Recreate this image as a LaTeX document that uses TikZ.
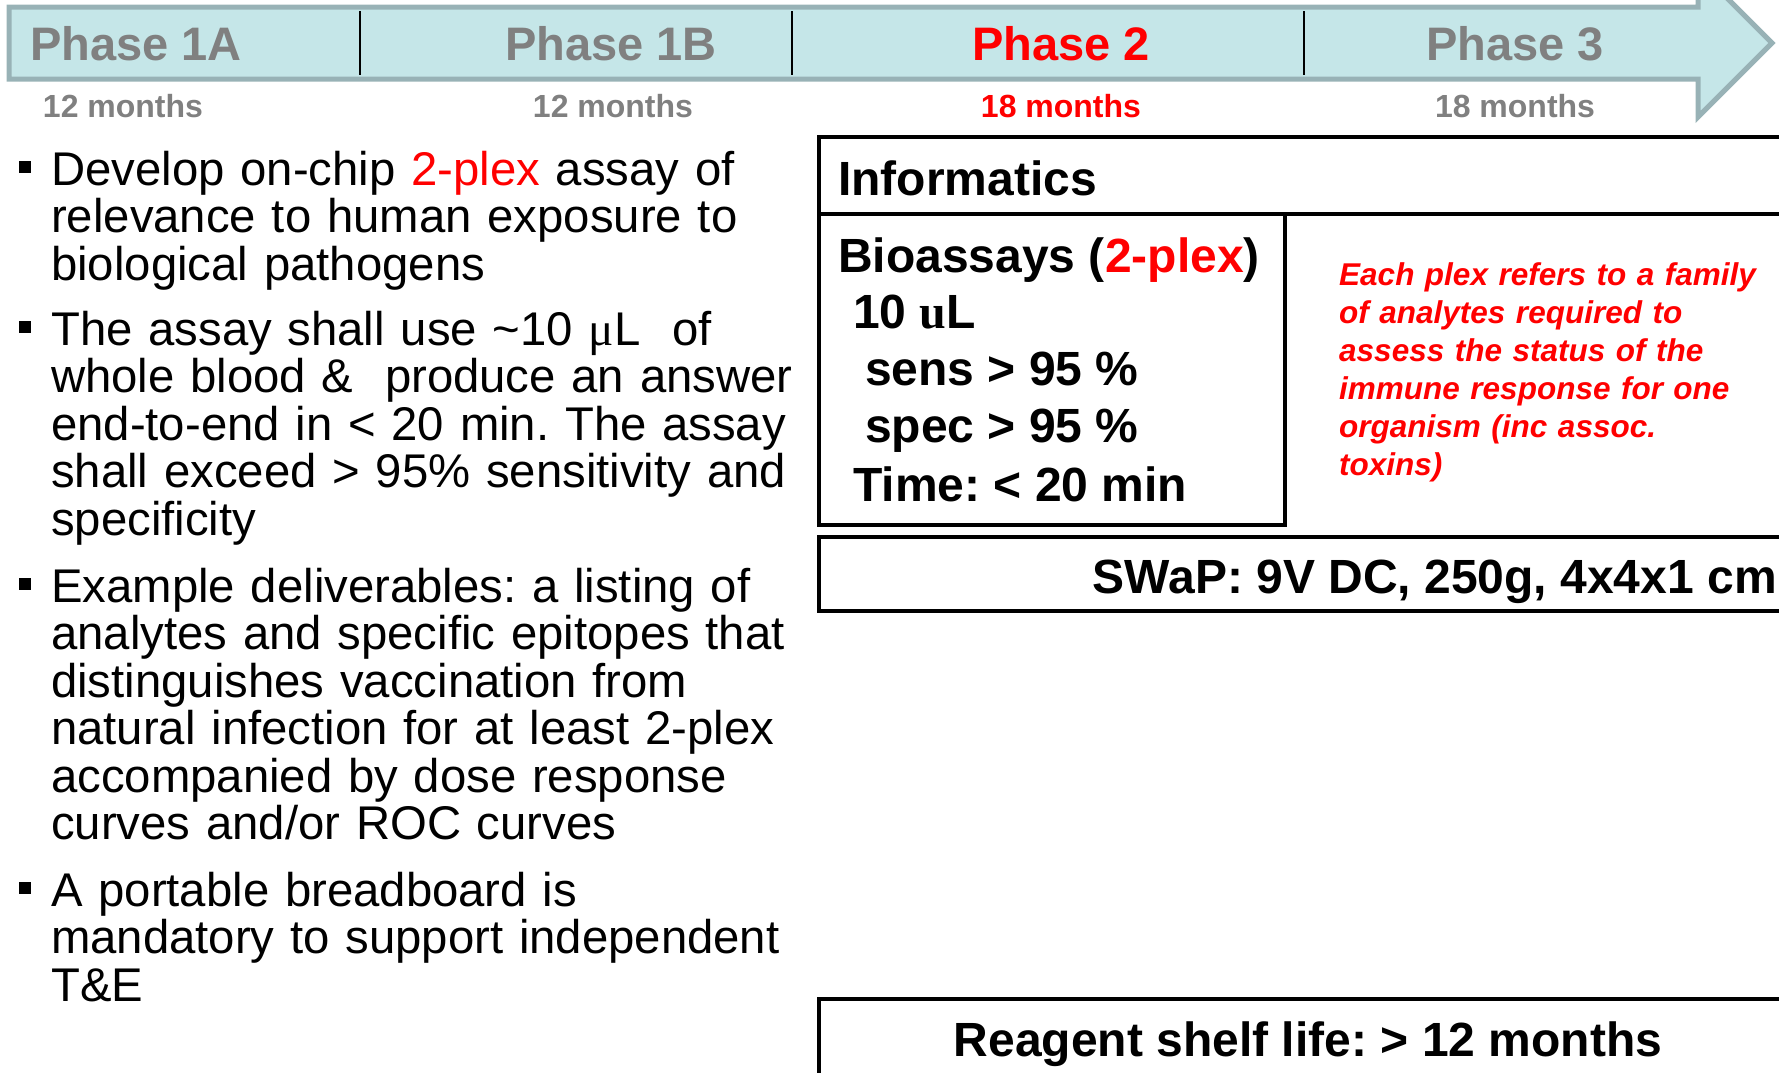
\documentclass[tikz,border=0pt]{standalone}
\usepackage{fontspec}
\setmainfont{Liberation Sans}
\newfontfamily\symfont{Liberation Serif}
\frenchspacing
\definecolor{arrowfill}{RGB}{197,230,232}
\definecolor{arrowedge}{RGB}{152,178,182}
\definecolor{phasegray}{RGB}{128,128,128}

\tikzset{
  phaselabel/.style={font=\fontsize{47}{56}\selectfont\bfseries, anchor=base, inner sep=0pt},
  monthlabel/.style={font=\fontsize{32}{38}\selectfont\bfseries, anchor=base, inner sep=0pt},
  bullettext/.style={font=\fontsize{47.3}{47.5}\selectfont, anchor=base west, inner sep=0pt,
    text width=780pt, align=left},
  boxtext/.style={font=\fontsize{48}{57}\selectfont\bfseries, anchor=base west, inner sep=0pt},
  boxline/.style={line width=3.5pt},
}

\begin{document}
\begin{tikzpicture}[x=1pt, y=-1pt]
  \useasboundingbox (0,0) rectangle (1779,1072);

  % timeline arrow with the four phases
  \draw[arrowedge, fill=arrowfill, line width=5pt, line join=miter]
    (9,7) -- (1698,7) -- (1698,-31) -- (1772,43) -- (1698,117) -- (1698,79) -- (9,79) -- cycle;
  \foreach \x in {360,792,1304}
    \draw[line width=2pt] (\x,11) -- (\x,75);
  \foreach \name/\px/\mx/\dur/\col [count=\i] in {Phase 1A/136/123/12/phasegray,
      Phase 1B/611/613/12/phasegray, Phase 2/1061/1061/18/red, Phase 3/1515/1515/18/phasegray}{
    \node[phaselabel, text=\col] (phase\i) at (\px,60) {\name};
    \node[monthlabel, text=\col] (months\i) at (\mx,117) {\dur\ months};
  }

  % goals on the left
  \foreach \y in {185,345,602,906}
    \fill (19,\y-24) rectangle ++(12,12);
  \node[bullettext] (goal1) at (51,185) {Develop on-chip {\color{red}2-plex} assay of\\
    relevance to human exposure to\\ biological pathogens};
  \node[bullettext] (goal2) at (51,345) {The assay shall use \textasciitilde10 {\symfont μ}L\ \ of\\
    whole blood \&\ \ produce an answer\\ end-to-end in < 20 min. The assay\\
    shall exceed > 95\% sensitivity and\\ specificity};
  \node[bullettext] (goal3) at (51,602) {Example deliverables: a listing of\\
    analytes and specific epitopes that\\ distinguishes vaccination from\\
    natural infection for at least 2-plex\\ accompanied by dose response\\
    curves and/or ROC curves};
  \node[bullettext] (goal4) at (51,906) {A portable breadboard is\\
    mandatory to support independent\\ T\&E};

  % requirement boxes on the right
  \draw[boxline] (819,137) rectangle (1800,214);
  \draw[boxline] (819,214) rectangle (1285,525);
  \draw[boxline] (819,537) rectangle (1800,611);
  \draw[boxline] (819,999) rectangle (1800,1100);

  \node[boxtext] (informatics) at (838,195) {Informatics};
  \foreach \x/\y/\txt [count=\i] in {838/272/{Bioassays ({\color{red}2-plex})},
      853/328/{10 {\symfont u}L}, 865/385/{sens > 95 \%}, 865/442/{spec > 95 \%},
      853/501/{Time: < 20 min}}
    \node[boxtext] (assay\i) at (\x,\y) {\txt};

  \node[font=\fontsize{31.5}{38}\selectfont\bfseries\itshape, text=red, anchor=base west,
    inner sep=0pt, text width=440pt, align=left] (plexnote) at (1339,285)
    {Each plex refers to a family\\ of analytes required to\\ assess the status of the\\
     immune response for one\\ organism (inc assoc.\\ toxins)};

  \node[boxtext, anchor=base east] (swap) at (1777,593) {SWaP: 9V DC, 250g, 4x4x1 cm};
  \node[boxtext, anchor=base] (shelf) at (1308,1056) {Reagent shelf life: > 12 months};
\end{tikzpicture}
\end{document}
